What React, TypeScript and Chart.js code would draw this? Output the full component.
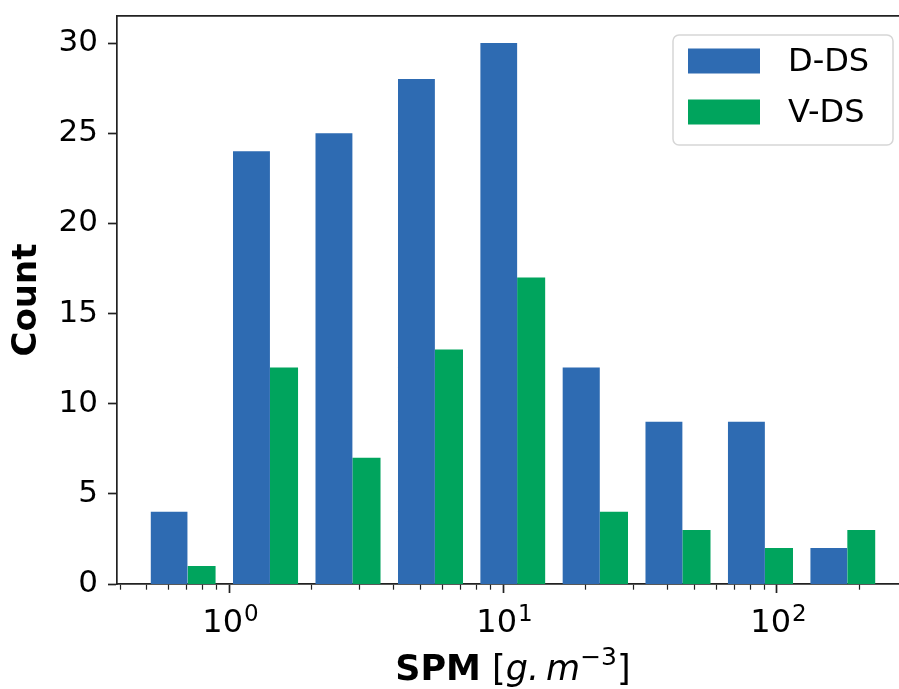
import React, { useEffect, useRef } from 'react';
import { Chart, registerables } from 'chart.js';

Chart.register(...registerables);

// ---- data ----
const BIN_EDGES = [0.47, 0.94, 1.88, 3.76, 7.52, 15.0, 30.1, 60.2, 120.4, 240.8];
const D_DS_COUNTS = [4, 24, 25, 28, 30, 12, 9, 9, 2];
const V_DS_COUNTS = [1, 12, 7, 13, 17, 4, 3, 2, 3];
const SERIES_LABELS = ['D-DS', 'V-DS'];
const SERIES_COLORS = ['#2E6BB2', '#00A45D'];
const Y_TICKS = [0, 5, 10, 15, 20, 25, 30];
const X_MIN = 0.39;
const X_MAX = 278.8;
const Y_MAX = 31.5;

const FONT = "'DejaVu Sans', sans-serif";

function isMajor(v: number) {
  const l = Math.log10(v);
  return Math.abs(l - Math.round(l)) < 1e-6;
}

// matplotlib-style side-by-side histogram bars (rwidth 0.8, two datasets)
function histOutline(counts: number[], slot: number) {
  const pts: { x: number; y: number }[] = [];
  counts.forEach((h, i) => {
    const L = BIN_EDGES[i];
    const w = BIN_EDGES[i + 1] - L;
    const a = L + w * (0.1 + 0.4 * slot);
    const b = a + 0.4 * w;
    pts.push({ x: a, y: 0 }, { x: a, y: h }, { x: b, y: h }, { x: b, y: 0 });
  });
  return pts;
}

const legendPlugin = {
  id: 'mplLegend',
  afterDraw(chart: any) {
    const ctx = chart.ctx;
    const x0 = 673, y0 = 35, w = 220, h = 110, r = 6;
    ctx.save();
    ctx.beginPath();
    ctx.moveTo(x0 + r, y0);
    ctx.arcTo(x0 + w, y0, x0 + w, y0 + h, r);
    ctx.arcTo(x0 + w, y0 + h, x0, y0 + h, r);
    ctx.arcTo(x0, y0 + h, x0, y0, r);
    ctx.arcTo(x0, y0, x0 + w, y0, r);
    ctx.closePath();
    ctx.fillStyle = 'rgba(255,255,255,0.8)';
    ctx.fill();
    ctx.strokeStyle = '#d6d6d6';
    ctx.lineWidth = 1.5;
    ctx.stroke();
    chart.data.datasets.forEach((ds: any, i: number) => {
      const cy = 61 + i * 51;
      ctx.fillStyle = ds.backgroundColor;
      ctx.fillRect(688, cy - 12.5, 72, 25);
      ctx.fillStyle = '#000';
      ctx.font = `32px ${FONT}`;
      ctx.textBaseline = 'middle';
      ctx.textAlign = 'left';
      ctx.fillText(ds.label, 788, cy + 2);
    });
    ctx.restore();
  },
};

// 10^n labels with real superscript sizing, placed at the scale's own ticks
const xTickLabelPlugin = {
  id: 'xTickLabels',
  afterDraw(chart: any) {
    const ctx = chart.ctx;
    const scale = chart.scales.x;
    const base = 632;
    ctx.save();
    ctx.fillStyle = '#000';
    ctx.textBaseline = 'alphabetic';
    ctx.textAlign = 'left';
    scale.ticks.forEach((t: any) => {
      if (!isMajor(t.value)) return;
      const exp = String(Math.round(Math.log10(t.value)));
      ctx.font = `32px ${FONT}`;
      const w1 = ctx.measureText('10').width;
      ctx.font = `23px ${FONT}`;
      const w2 = ctx.measureText(exp).width;
      const px = scale.getPixelForValue(t.value);
      const x = px - (w1 + w2) / 2 + 1;
      ctx.font = `32px ${FONT}`;
      ctx.fillText('10', x, base);
      ctx.font = `23px ${FONT}`;
      ctx.fillText(exp, x + w1 + 1, base - 11);
    });
    ctx.restore();
  },
};

const xTitlePlugin = {
  id: 'xTitle',
  afterDraw(chart: any) {
    const ctx = chart.ctx;
    const size = 35;
    const parts = [
      { t: 'SPM', f: `bold ${size}px ${FONT}`, dy: 0 },
      { t: ' [', f: `${size}px ${FONT}`, dy: 0 },
      { t: 'g.\u2009m', f: `italic ${size}px ${FONT}`, dy: 0 },
      { t: '\u22123', f: `${Math.round(size * 0.72)}px ${FONT}`, dy: -15 },
      { t: ']', f: `${size}px ${FONT}`, dy: 0 },
    ];
    ctx.save();
    ctx.fillStyle = '#000';
    ctx.textBaseline = 'alphabetic';
    ctx.textAlign = 'left';
    let total = 0;
    parts.forEach((p) => {
      ctx.font = p.f;
      total += ctx.measureText(p.t).width;
    });
    const area = chart.chartArea;
    const xScale = chart.scales.x;
    // centre of the full (uncropped) axes box
    const fullRight = xScale.getPixelForValue(303);
    let x = (area.left + fullRight) / 2 - total / 2;
    const base = 680;
    parts.forEach((p) => {
      ctx.font = p.f;
      ctx.fillText(p.t, x, base + p.dy);
      x += ctx.measureText(p.t).width;
    });
    ctx.restore();
  },
};

export default function App() {
  const ref = useRef<HTMLCanvasElement | null>(null);

  useEffect(() => {
    document.body.style.margin = '0';
    const canvas = ref.current;
    if (!canvas) return;
    const tickGrid = {
      drawOnChartArea: false,
      drawTicks: true,
      tickLength: 9,
      tickColor: '#222',
      tickWidth: (c: any) => (c.tick && !isMajor(c.tick.value) ? 1.2 : 1.7),
      tickBorderDash: (c: any) => (c.tick && !isMajor(c.tick.value) ? [5, 100] : []),
    };
    const noPad = (s: any) => {
      s.paddingTop = 0;
      s.paddingBottom = 0;
      s.paddingLeft = 0;
      s.paddingRight = 0;
    };
    const chart = new Chart(canvas, {
      type: 'line',
      data: {
        datasets: [
          {
            label: SERIES_LABELS[0],
            data: histOutline(D_DS_COUNTS, 0),
            backgroundColor: SERIES_COLORS[0],
            borderColor: 'rgba(0,0,0,0)',
            borderWidth: 0,
            pointRadius: 0,
            tension: 0,
            fill: 'origin',
          },
          {
            label: SERIES_LABELS[1],
            data: histOutline(V_DS_COUNTS, 1),
            backgroundColor: SERIES_COLORS[1],
            borderColor: 'rgba(0,0,0,0)',
            borderWidth: 0,
            pointRadius: 0,
            tension: 0,
            fill: 'origin',
          },
        ],
      },
      options: {
        animation: false,
        responsive: false,
        events: [],
        layout: { padding: { top: 16, left: 0, right: 0, bottom: 0 } },
        plugins: {
          legend: { display: false },
          tooltip: { enabled: false },
        },
        scales: {
          x: {
            type: 'logarithmic',
            position: 'bottom',
            min: X_MIN,
            max: X_MAX,
            afterFit: (s: any) => {
              s.height = 105;
              noPad(s);
            },
            afterBuildTicks: (s: any) => {
              const t: any[] = [];
              for (let e = -1; e <= 2; e++) {
                for (let m = 1; m <= 9; m++) {
                  const v = m * Math.pow(10, e);
                  if (v >= X_MIN && v <= X_MAX) t.push({ value: v, major: m === 1 });
                }
              }
              s.ticks = t;
            },
            grid: tickGrid,
            border: { display: true, color: '#222', width: 1.7 },
            ticks: {
              autoSkip: false,
              maxRotation: 0,
              minRotation: 0,
              color: '#000',
              font: { family: FONT, size: 31 },
              callback: () => '',
            },
            title: { display: false },
          },
          xTop: {
            type: 'logarithmic',
            position: 'top',
            min: X_MIN,
            max: X_MAX,
            afterFit: (s: any) => {
              s.height = 0;
              noPad(s);
            },
            grid: { display: false, drawTicks: false },
            border: { display: true, color: '#222', width: 1.7 },
            ticks: { display: false },
          },
          y: {
            type: 'linear',
            min: 0,
            max: Y_MAX,
            afterFit: (s: any) => {
              s.width = 117;
              noPad(s);
            },
            afterBuildTicks: (s: any) => {
              s.ticks = Y_TICKS.map((v) => ({ value: v }));
            },
            grid: {
              drawOnChartArea: false,
              drawTicks: true,
              tickLength: 9,
              tickColor: '#222',
              tickWidth: 1.7,
            },
            border: { display: true, color: '#222', width: 1.7 },
            ticks: {
              padding: 10,
              color: '#000',
              font: { family: FONT, size: 31 },
            },
            title: {
              display: true,
              text: 'Count',
              color: '#000',
              font: { family: FONT, size: 34, weight: 'bold' },
              padding: { top: 7, bottom: 0 },
            },
          },
        },
      } as any,
      plugins: [legendPlugin, xTickLabelPlugin, xTitlePlugin],
    });
    return () => chart.destroy();
  }, []);

  return (
    <div style={{ width: 899, height: 689 }}>
      <canvas ref={ref} width={899} height={689} style={{ display: 'block' }} />
    </div>
  );
}
